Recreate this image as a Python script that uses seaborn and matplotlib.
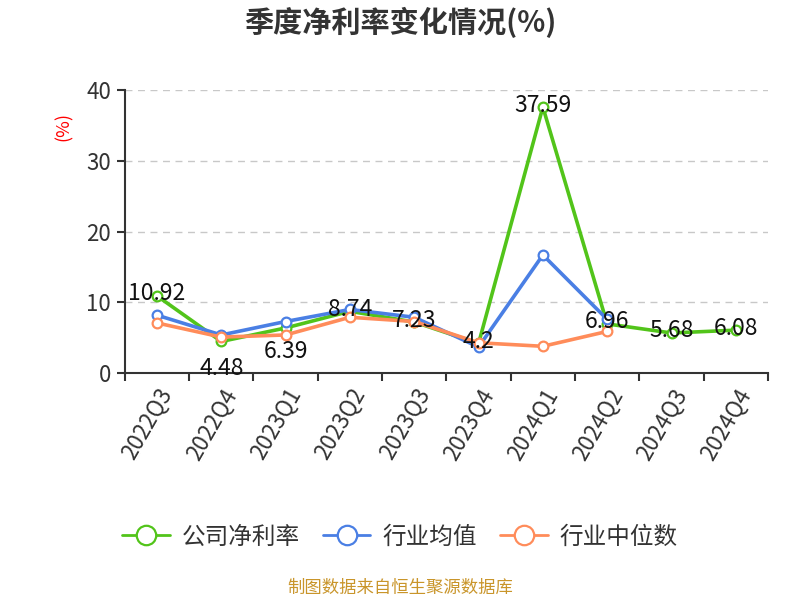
import matplotlib
matplotlib.use("Agg")
import matplotlib.pyplot as plt
import seaborn as sns
import pandas as pd
import numpy as np
from matplotlib.lines import Line2D

quarters = ["2022Q3", "2022Q4", "2023Q1", "2023Q2", "2023Q3", "2023Q4",
            "2024Q1", "2024Q2", "2024Q3", "2024Q4"]
company = [10.92, 4.48, 6.39, 8.74, 7.23, 4.2, 37.59, 6.96, 5.68, 6.08]
industry_mean = [8.2, 5.4, 7.3, 9.0, 7.9, 3.7, 16.7, 7.6, None, None]
industry_median = [7.1, 5.1, 5.4, 7.9, 7.3, 4.3, 3.8, 5.9, None, None]
company_labels = ["10.92", "4.48", "6.39", "8.74", "7.23", "4.2", "37.59", "6.96", "5.68", "6.08"]

series_names = ["公司净利率", "行业均值", "行业中位数"]
colors = ["#52c41a", "#4a7fe4", "#ff8c5a"]

sns.set_theme(style="white")
plt.rcParams['font.family'] = ['Noto Sans CJK SC', 'DejaVu Sans']

fig = plt.figure(figsize=(8, 6), dpi=100)
ax = fig.add_axes([0.156, 0.378, 0.804, 0.472])

x = np.arange(len(quarters))
for name, vals, c in zip(series_names, [company, industry_mean, industry_median], colors):
    df = pd.DataFrame({"x": x, "y": pd.array(vals, dtype="Float64").astype(float)}).dropna()
    sns.lineplot(data=df, x="x", y="y", ax=ax, color=c, linewidth=2.6,
                 marker="o", markersize=7, markerfacecolor="white",
                 markeredgecolor=c, markeredgewidth=1.6, zorder=3)

# data labels for company series
offsets = [2, -27, -24, 2, 2, 2, 2, 2, 2, 2]
for xi, v, lab, off in zip(x, company, company_labels, offsets):
    ax.annotate(lab, (xi, v), xytext=(0, off), textcoords="offset pixels",
                ha="center", va="center", fontsize=16.5, color="#111111", zorder=5)

ax.set_xlim(-0.5, len(quarters) - 0.5)
ax.set_ylim(0, 40)
ax.set_yticks([0, 10, 20, 30, 40])
ax.set_xticks(x)
ax.set_xticklabels(quarters, rotation=60, ha="right", rotation_mode="anchor",
                   fontsize=16, color="#333333")
ax.set_xticks(np.arange(-0.5, len(quarters), 1), minor=True)
ax.tick_params(axis="x", which="major", length=0, pad=8)
ax.tick_params(axis="x", which="minor", length=6, width=1.5, color="#333333", bottom=True)
ax.tick_params(axis="y", length=6, width=1.5, color="#333333", left=True,
               labelsize=16, labelcolor="#333333", pad=4)
ax.yaxis.grid(True, linestyle=(0, (5, 4)), color="#c8c8c8", linewidth=1)
ax.xaxis.grid(False)
for s in ["top", "right"]:
    ax.spines[s].set_visible(False)
for s in ["left", "bottom"]:
    ax.spines[s].set_color("#333333")
    ax.spines[s].set_linewidth(1.5)
ax.set_xlabel("")
ax.set_ylabel("(%)", color="red", fontsize=13)
ax.yaxis.set_label_coords(-0.08, 0.87)

fig.text(0.5, 0.962, "季度净利率变化情况(%)", ha="center", va="center",
         fontsize=21, fontweight="bold", color="#333333")

handles = [Line2D([0], [0], color=c, linewidth=2, marker="o", markersize=14,
                  markerfacecolor="white", markeredgecolor=c, markeredgewidth=1.6)
           for c in colors]
fig.legend(handles, series_names, loc="center", bbox_to_anchor=(0.5, 0.105),
           ncol=3, frameon=False, fontsize=17, handlelength=2.0, columnspacing=1.0,
           handletextpad=0.5, labelcolor="#333333")

fig.text(0.5, 0.02, "制图数据来自恒生聚源数据库", ha="center", va="center",
         fontsize=12.5, color="#c9952a")

fig.savefig("out.png", dpi=100)
